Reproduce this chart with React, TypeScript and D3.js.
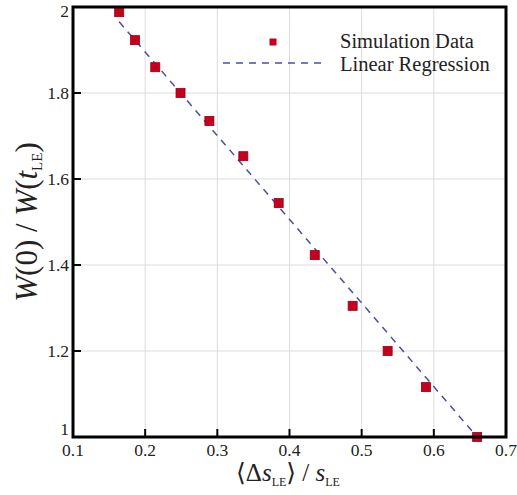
import React from "react";
import * as d3 from "d3";

const xData = [0.164, 0.186, 0.214, 0.249, 0.289, 0.336, 0.385, 0.435, 0.4875, 0.536, 0.589, 0.66];
const yData = [1.988, 1.923, 1.860, 1.800, 1.735, 1.653, 1.544, 1.423, 1.305, 1.200, 1.116, 1.0];
const regSlope = -1.946;
const regIntercept = 2.2846;
const regX = [0.164, 0.66];
const xTicks = [0.1, 0.2, 0.3, 0.4, 0.5, 0.6, 0.7];
const yTicks = [1, 1.2, 1.4, 1.6, 1.8, 2];
const xTickLabels = ["0.1", "0.2", "0.3", "0.4", "0.5", "0.6", "0.7"];
const yTickLabels = ["1", "1.2", "1.4", "1.6", "1.8", "2"];
const legendLabels = ["Simulation Data", "Linear Regression"];

const W = 517, H = 495;
const L = 73, R = 506, T = 7, B = 437;
const serif = "'Liberation Serif', Tinos, 'Times New Roman', 'Nimbus Roman', 'DejaVu Serif', serif";

export default function App() {
  const x = d3.scaleLinear().domain([0.1, 0.7]).range([L, R]);
  const y = d3.scaleLinear().domain([1, 2]).range([B, T]);
  const line = d3.line<number>().x((d) => x(d)).y((d) => y(regIntercept + regSlope * d));
  const red = "#c8001c";
  const blue = "#4a4ea6";
  const ts = { fontFamily: serif };
  const yLabelY = (i: number, t: number) => (i === 0 ? y(t) - 2 : i === yTicks.length - 1 ? y(t) + 10 : y(t) + 6);
  return (
    <svg width={W} height={H} style={{ position: "absolute", left: 0, top: 0, background: "#fff" }}>
      {xTicks.slice(1, -1).map((t) => (
        <line key={"gx" + t} x1={x(t)} x2={x(t)} y1={T} y2={B} stroke="#dcdcdc" strokeWidth={1} />
      ))}
      {yTicks.slice(1, -1).map((t) => (
        <line key={"gy" + t} x1={L} x2={R} y1={y(t)} y2={y(t)} stroke="#dcdcdc" strokeWidth={1} />
      ))}
      <path d={line(regX) || ""} fill="none" stroke={blue} strokeWidth={1.5} strokeDasharray="7,6" />
      {xData.map((xv, i) => (
        <rect key={i} x={x(xv) - 4.5} y={y(yData[i]) - 4.5} width={9} height={9} fill={red} stroke="#8e0016" strokeWidth={0.8} />
      ))}
      {xTicks.slice(1, -1).map((t) => (
        <line key={"tx" + t} x1={x(t)} x2={x(t)} y1={B} y2={B - 8} stroke="#000" strokeWidth={2} />
      ))}
      {yTicks.slice(1, -1).map((t) => (
        <line key={"ty" + t} x1={L} x2={L + 8} y1={y(t)} y2={y(t)} stroke="#000" strokeWidth={2} />
      ))}
      <rect x={L} y={T} width={R - L} height={B - T} fill="none" stroke="#000" strokeWidth={3} />
      {xTicks.map((t, i) => (
        <text key={"lx" + t} x={x(t)} y={456} textAnchor="middle" style={ts} fontSize={17.5} fill="#222">
          {xTickLabels[i]}
        </text>
      ))}
      {yTicks.map((t, i) => (
        <text key={"ly" + t} x={L - 4} y={yLabelY(i, t)} textAnchor="end" style={ts} fontSize={17.5} fill="#222">
          {yTickLabels[i]}
        </text>
      ))}
      <rect x={269.5} y={38.5} width={7} height={7} fill={red} />
      <text x={340} y={47.5} style={ts} fontSize={20.5} fill="#222">{legendLabels[0]}</text>
      <line x1={223} x2={323} y1={63} y2={63} stroke={blue} strokeWidth={1.5} strokeDasharray="7,6" />
      <text x={340} y={70.5} style={ts} fontSize={20.5} fill="#222">{legendLabels[1]}</text>
      <text x={288} y={481} textAnchor="middle" style={ts} fontSize={25} fill="#222">
        ⟨Δ<tspan fontStyle="italic">s</tspan>
        <tspan fontSize={12} dy={5}>LE</tspan>
        <tspan dy={-5}>⟩ / </tspan>
        <tspan fontStyle="italic">s</tspan>
        <tspan fontSize={12} dy={5}>LE</tspan>
      </text>
      <text transform={`translate(37,${(T + B) / 2}) rotate(-90)`} textAnchor="middle" style={ts} fontSize={31} fill="#222">
        <tspan fontStyle="italic">W</tspan>(0) / <tspan fontStyle="italic">W</tspan>(<tspan fontStyle="italic">t</tspan>
        <tspan fontSize={15} dy={5}>LE</tspan>
        <tspan dy={-5}>)</tspan>
      </text>
    </svg>
  );
}
